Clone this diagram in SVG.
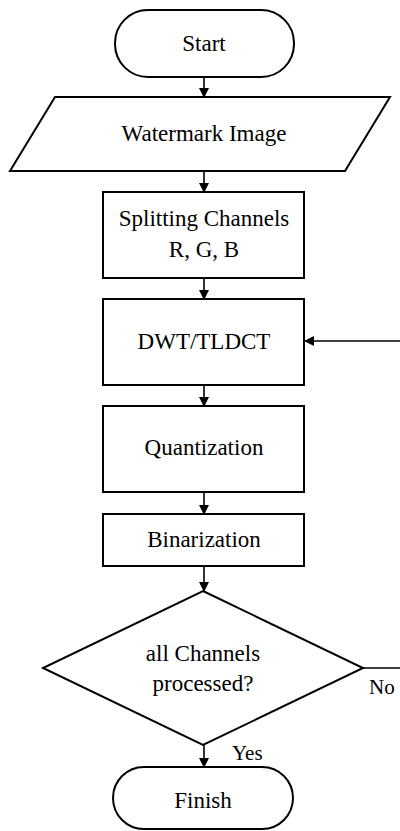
<svg xmlns="http://www.w3.org/2000/svg" width="400" height="831" viewBox="0 0 400 831">
<style>
.s{fill:#fff;stroke:#000;stroke-width:2}
.t{font-family:'Liberation Serif','Times New Roman','DejaVu Serif',serif;font-size:23px;fill:#000;text-anchor:middle}
.l{font-family:'Liberation Serif','Times New Roman','DejaVu Serif',serif;font-size:21px;fill:#000}
.c{fill:none;stroke:#000;stroke-width:1.6}
</style>
<defs>
<marker id="a" markerWidth="10" markerHeight="10" refX="9" refY="5" orient="auto" markerUnits="userSpaceOnUse">
<path d="M0,0 L10,5 L0,10 Z" fill="#000"/>
</marker>
</defs>
<rect width="400" height="831" fill="#fff"/>
<g id="connectors">
<line class="c" x1="204" y1="77" x2="204" y2="97" marker-end="url(#a)"/>
<line class="c" x1="204" y1="171" x2="204" y2="192" marker-end="url(#a)"/>
<line class="c" x1="204" y1="278" x2="204" y2="299" marker-end="url(#a)"/>
<line class="c" x1="204" y1="385" x2="204" y2="406" marker-end="url(#a)"/>
<line class="c" x1="204" y1="492" x2="204" y2="514" marker-end="url(#a)"/>
<line class="c" x1="204" y1="566" x2="204" y2="591" marker-end="url(#a)"/>
<line class="c" x1="204" y1="745" x2="204" y2="767" marker-end="url(#a)"/>
<line class="c" x1="400" y1="341" x2="305" y2="341" marker-end="url(#a)"/>
<line class="c" x1="363" y1="668" x2="400" y2="668"/>
<text class="l" x="232" y="760">Yes</text>
<text class="l" x="369" y="694">No</text>
</g>
<g id="start">
<rect class="s" x="115" y="10" width="179" height="67" rx="33" ry="33"/>
<text class="t" x="204" y="51">Start</text>
</g>
<g id="watermark">
<path class="s" d="M55,97 L390,97 L345,171 L10,171 Z"/>
<text class="t" x="204" y="141">Watermark Image</text>
</g>
<g id="split">
<rect class="s" x="103" y="192" width="201" height="86"/>
<text class="t" x="204" y="226">Splitting Channels</text>
<text class="t" x="204" y="257">R, G, B</text>
</g>
<g id="dwt">
<rect class="s" x="103" y="299" width="201" height="86"/>
<text class="t" x="204" y="349">DWT/TLDCT</text>
</g>
<g id="quant">
<rect class="s" x="103" y="406" width="201" height="86"/>
<text class="t" x="204" y="455">Quantization</text>
</g>
<g id="bin">
<rect class="s" x="103" y="514" width="201" height="52"/>
<text class="t" x="204" y="547">Binarization</text>
</g>
<g id="decision">
<path class="s" d="M203,591 L363,668 L203,745 L43,668 Z"/>
<text class="t" x="203" y="661">all Channels</text>
<text class="t" x="203" y="691">processed?</text>
</g>
<g id="finish">
<rect class="s" x="113" y="767" width="180" height="62" rx="31" ry="31"/>
<text class="t" x="203" y="808">Finish</text>
</g>
</svg>
